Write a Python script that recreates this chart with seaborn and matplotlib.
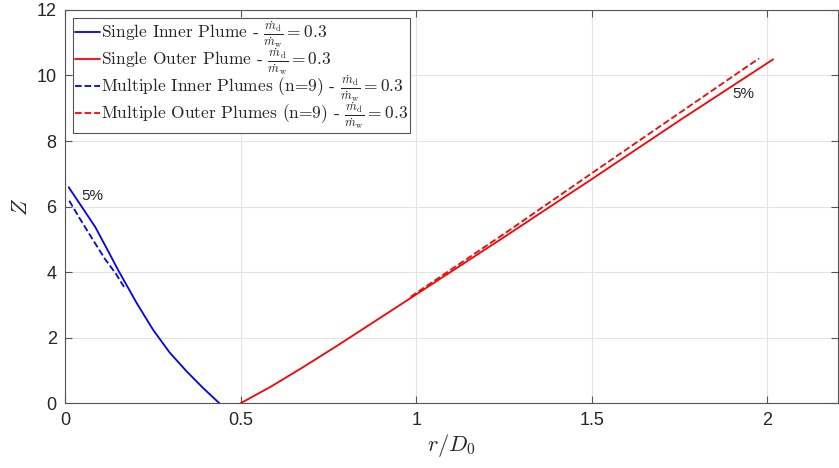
import seaborn as sns
import pandas as pd
import matplotlib.pyplot as plt

inner_single_r = [0.0105, 0.048, 0.086, 0.124, 0.152, 0.204, 0.251, 0.298, 0.346, 0.393, 0.440]
inner_single_z = [6.59, 5.99, 5.38, 4.62, 4.05, 3.06, 2.24, 1.55, 0.98, 0.47, 0.0]
inner_multi_r = [0.012, 0.039, 0.077, 0.114, 0.145, 0.168]
inner_multi_z = [6.18, 5.69, 5.03, 4.40, 3.95, 3.55]
outer_single_r = [0.499, 0.586, 0.680, 0.775, 0.870, 0.965, 1.25, 1.5, 1.75, 2.016]
outer_single_z = [0.0, 0.51, 1.12, 1.76, 2.42, 3.08, 5.07, 6.84, 8.63, 10.49]
outer_multi_r = [0.984, 1.25, 1.565, 1.976]
outer_multi_z = [3.25, 5.17, 7.50, 10.52]

frac = r'$\frac{\dot{m}_\mathrm{d}}{\dot{m}_\mathrm{w}}=0.3$'
labels = ['Single Inner Plume - ' + frac,
          'Single Outer Plume - ' + frac,
          'Multiple Inner Plumes (n=9) - ' + frac,
          'Multiple Outer Plumes (n=9) - ' + frac]

sns.set_style('whitegrid')
plt.rcParams['font.family'] = ['Liberation Sans', 'DejaVu Sans']
plt.rcParams['mathtext.fontset'] = 'cm'

series = [(inner_single_r, inner_single_z, labels[0], 'blue', '-'),
          (outer_single_r, outer_single_z, labels[1], 'red', '-'),
          (inner_multi_r, inner_multi_z, labels[2], 'blue', '--'),
          (outer_multi_r, outer_multi_z, labels[3], 'red', '--')]

fig = plt.figure(figsize=(8.39, 4.68), dpi=100)
ax = fig.add_axes([0.0775, 0.138, 0.921, 0.841])

for r, z, lab, col, ls in series:
    df = pd.DataFrame({'r': r, 'Z': z})
    sns.lineplot(data=df, x='r', y='Z', ax=ax, sort=False, estimator=None,
                 color=col, linestyle=ls, linewidth=1.3, label=lab)

ax.set_xlim(0, 2.2)
ax.set_ylim(0, 12)
ax.set_xticks([0, 0.5, 1, 1.5, 2])
ax.set_xticklabels(['0', '0.5', '1', '1.5', '2'])
ax.set_yticks(range(0, 13, 2))
ax.grid(True, color='#e3e3e3', linewidth=0.8)
for s in ax.spines.values():
    s.set_visible(True)
    s.set_color('#555555')
    s.set_linewidth(0.8)
ax.tick_params(direction='in', length=5, width=0.8, colors='#555555',
               labelcolor='#262626', labelsize=13, top=True, right=True,
               bottom=True, left=True, pad=6)

ax.set_xlabel(r'$r/D_0$', fontsize=16, color='#262626', labelpad=2)
ax.set_ylabel(r'$Z$', fontsize=16, color='#262626', labelpad=3)

ax.text(0.077, 6.32, '5%', fontsize=11, ha='center', va='center', color='#262626')
ax.text(1.931, 9.43, '5%', fontsize=11, ha='center', va='center', color='#262626')

leg = ax.legend(loc='upper left', bbox_to_anchor=(0.0, 1.0), borderaxespad=0.45,
                prop={'family': 'cmr10', 'size': 12.5}, fancybox=False,
                framealpha=1, edgecolor='#555555', handlelength=1.45,
                handletextpad=0.1, borderpad=0.1, labelspacing=-0.22)
leg.get_frame().set_linewidth(0.8)

fig.savefig('out.png', dpi=100)
